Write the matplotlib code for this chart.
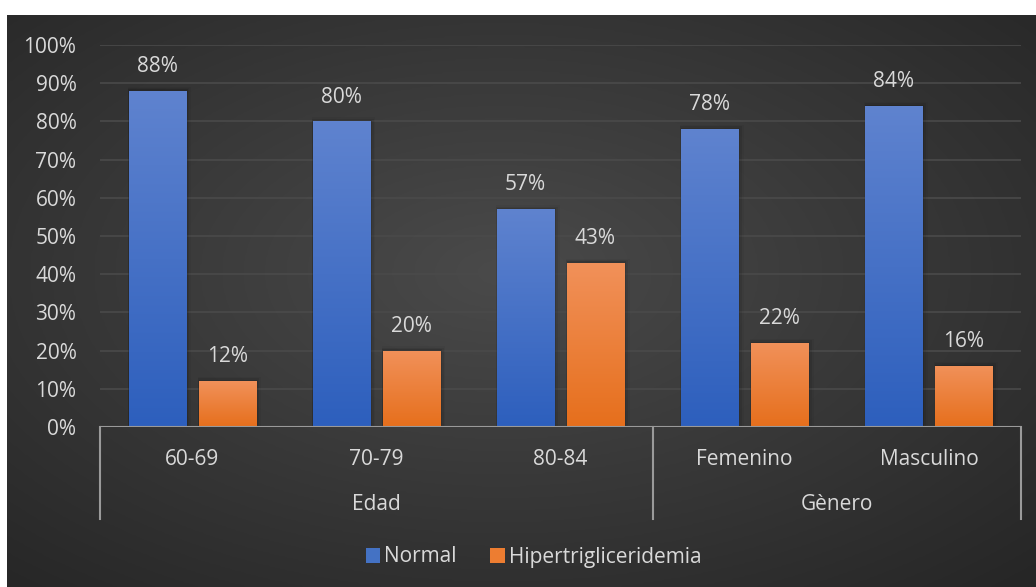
import numpy as np
import matplotlib
matplotlib.use("Agg")
import matplotlib.pyplot as plt
from matplotlib.colors import LinearSegmentedColormap
from matplotlib.patches import Patch
import matplotlib.transforms as mtransforms

# Data
categories = ["60-69", "70-79", "80-84", "Femenino", "Masculino"]
groups = ["Edad", "Gènero"]
group_sizes = [3, 2]
normal = [88, 80, 57, 78, 84]
hipertrig = [12, 20, 43, 22, 16]
series_names = ["Normal", "Hipertrigliceridemia"]
yticks = [0, 10, 20, 30, 40, 50, 60, 70, 80, 90, 100]

plt.rcParams["font.family"] = ["Open Sans", "DejaVu Sans"]
TXT = "#d9d9d9"
FS = 15

W, H = 1036, 587
fig = plt.figure(figsize=(W / 100, H / 100), dpi=100, facecolor="white")

# Dark radial background panel
bg = fig.add_axes([7 / W, 0, 1 - 7 / W, 1 - 15 / H])
bg.set_axis_off()
yy, xx = np.mgrid[0:1:400j, 0:1:700j]
r = np.sqrt(((xx - 0.48) / 0.75) ** 2 + ((yy - 0.45) / 0.75) ** 2)
bg_cmap = LinearSegmentedColormap.from_list("bgc", ["#4a4a4a", "#262626"])
bg.imshow(np.clip(r, 0, 1), cmap=bg_cmap, aspect="auto", extent=(0, 1, 0, 1),
          vmin=0, vmax=1, interpolation="bicubic")
bg.set_xlim(0, 1)
bg.set_ylim(0, 1)

# Main plot axes
x0, x1 = 100 / W, 1021 / W
y0, y1 = 1 - 427 / H, 1 - 45 / H
ax = fig.add_axes([x0, y0, x1 - x0, y1 - y0])
ax.patch.set_alpha(0)
for s in ax.spines.values():
    s.set_visible(False)

n = len(categories)
xpos = np.arange(n)
bw = 0.31
off = 0.19

blue_cmap = LinearSegmentedColormap.from_list("b", ["#2d5fbd", "#5f83cf"])
orange_cmap = LinearSegmentedColormap.from_list("o", ["#e66f1c", "#f1915a"])
grad = np.linspace(0, 1, 256).reshape(-1, 1)

def gradient_bars(xs, vals, cmap):
    bars = ax.bar(xs, [v / 100 for v in vals], width=bw, color="none",
                  edgecolor="none", zorder=3)
    for b in bars:
        bx, by = b.get_x(), b.get_y()
        bwid, bh = b.get_width(), b.get_height()
        # soft shadow
        for k, a in enumerate([0.10, 0.07, 0.04]):
            d = 0.006 * (k + 1)
            ax.add_patch(plt.Rectangle((bx - d * 0.3, by), bwid + 2 * d, bh + d * 0.6,
                                       facecolor="black", alpha=a, edgecolor="none",
                                       zorder=2))
        im = ax.imshow(grad, cmap=cmap, origin="lower", aspect="auto",
                       extent=(bx, bx + bwid, by, by + bh), zorder=3)
        im.set_clip_path(b)
    return bars

bars_n = gradient_bars(xpos - off, normal, blue_cmap)
bars_h = gradient_bars(xpos + off, hipertrig, orange_cmap)

ax.set_xlim(-0.5, n - 0.5)
ax.set_ylim(0, 1.0)
ax.set_aspect("auto")

# Gridlines
for t in yticks[1:]:
    ax.axhline(t / 100, color="#4a4a4a", lw=1.2, zorder=1)
ax.axhline(0, color="#9a9a9a", lw=1.5, zorder=4)

ax.set_yticks([t / 100 for t in yticks])
ax.set_yticklabels([f"{t}%" for t in yticks], color=TXT, fontsize=FS)
ax.tick_params(axis="y", length=0, pad=17)
ax.set_xticks([])

# Data labels
for xs, vals in [(xpos - off, normal), (xpos + off, hipertrig)]:
    for xv, v in zip(xs, vals):
        ax.annotate(f"{v}%", (xv, v / 100), xytext=(0, 10), textcoords="offset points",
                    ha="center", va="bottom", color=TXT, fontsize=FS, zorder=5)

# Multi-level category axis
trans = mtransforms.blended_transform_factory(ax.transData, ax.transAxes)
bottom = -0.241
for xv, lab in zip(xpos, categories):
    ax.text(xv, -0.084, lab, transform=trans, ha="center", va="center",
            color=TXT, fontsize=FS)
start = 0
bounds = [-0.5]
for g, sz in zip(groups, group_sizes):
    cx = start + (sz - 1) / 2
    ax.text(cx, -0.202, g, transform=trans, ha="center", va="center",
            color=TXT, fontsize=FS)
    start += sz
    bounds.append(start - 0.5)
for bx in bounds:
    ax.plot([bx, bx], [0, bottom], transform=trans, color="#9a9a9a", lw=1.5,
            clip_on=False, zorder=4)

# Legend
handles = [Patch(facecolor="#4472c4", edgecolor="none"),
           Patch(facecolor="#ed7d31", edgecolor="none")]
leg = fig.legend(handles, series_names, loc="center", bbox_to_anchor=(0.515, 1 - 557 / H),
                 ncol=2, frameon=False, fontsize=FS, handlelength=0.7, handleheight=0.7,
                 handletextpad=0.2, columnspacing=1.6, labelcolor=TXT)

fig.savefig("out.png", dpi=100, facecolor="white")
